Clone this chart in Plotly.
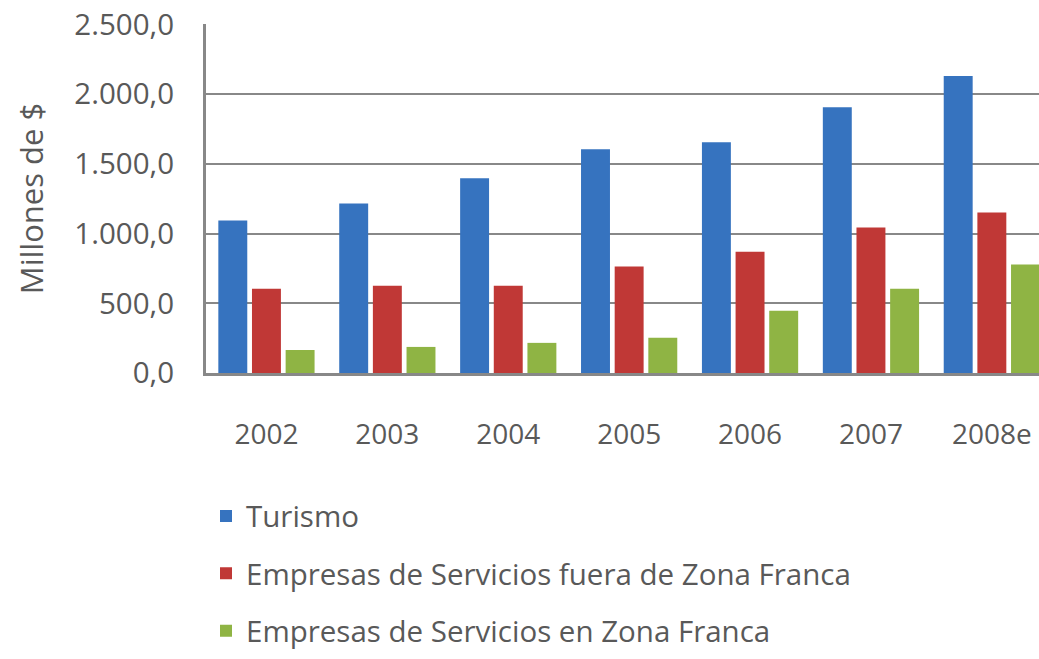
import plotly.graph_objects as go

years = ["2002", "2003", "2004", "2005", "2006", "2007", "2008e"]
turismo = [1094, 1216, 1396, 1604, 1655, 1906, 2130]
fuera_zf = [604, 626, 626, 763, 870, 1043, 1151]
en_zf = [165, 187, 216, 252, 446, 604, 777]

series = [
    ("Turismo", turismo, "#3673bf"),
    ("Empresas de Servicios fuera de Zona Franca", fuera_zf, "#c03836"),
    ("Empresas de Servicios en Zona Franca", en_zf, "#8fb444"),
]

FONT = "Open Sans"
GREY = "#595959"

fig = go.Figure()
for i, (name, vals, col) in enumerate(series):
    fig.add_trace(go.Bar(
        x=years, y=vals, name=name,
        marker=dict(color=col, line=dict(width=0)),
        legendgroup=str(i),
    ))

fig.update_layout(
    width=1039, height=659,
    margin=dict(l=206, r=0, t=24, b=286),
    paper_bgcolor="white", plot_bgcolor="white",
    font=dict(family=FONT, color=GREY, size=28),
    barmode="group", bargap=0.165, bargroupgap=0.14,
    separators=",.",
    showlegend=True,
    legend=dict(
        orientation="v", x=0.0, xanchor="left", y=-0.336, yanchor="top",
        font=dict(size=29.5, color=GREY), tracegroupgap=16,
        bgcolor="rgba(0,0,0,0)",
    ),
)

fig.update_xaxes(
    range=[-0.5, 6.39], automargin=False,
    showline=True, linecolor="#888888", linewidth=3,
    showgrid=False, ticks="", ticklabelstandoff=34,
    tickfont=dict(size=28, color=GREY),
)
fig.update_yaxes(
    range=[0, 2502], dtick=500, tickformat=",.1f", automargin=False,
    showline=True, linecolor="#888888", linewidth=3,
    showgrid=True, gridcolor="#888888", gridwidth=2,
    zeroline=False, ticks="", ticklabelstandoff=23,
    tickfont=dict(size=29.5, color=GREY),
    title=dict(text="Millones de $", font=dict(size=31, color=GREY), standoff=22),
)

# page body has an 8px default margin; drop it so the figure sits at 0,0
fig.write_html("out.html", config={"displayModeBar": False},
               post_script="document.body.style.margin='0';")
